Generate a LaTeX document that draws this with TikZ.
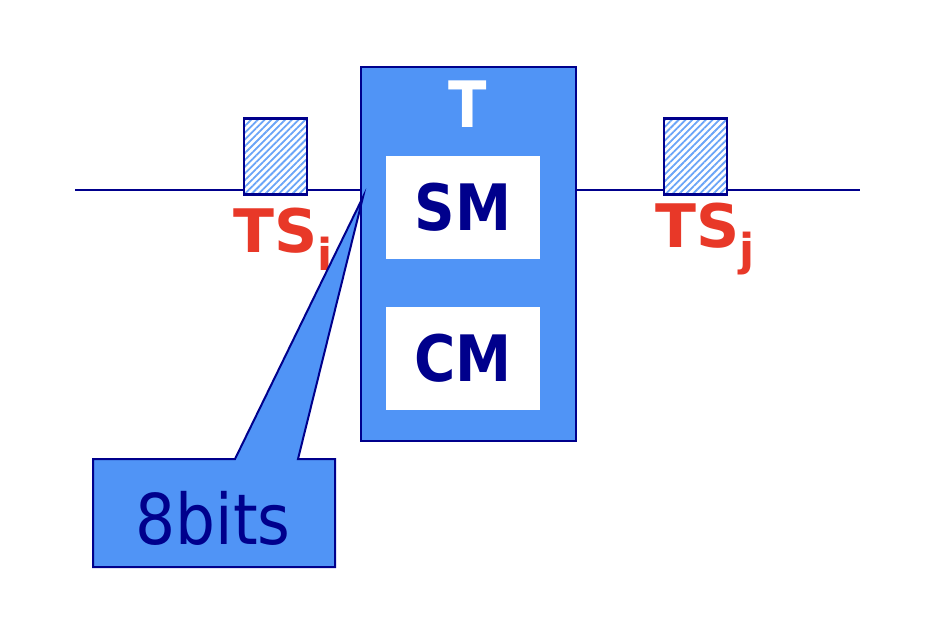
\documentclass[tikz,border=0pt]{standalone}
\usepackage{fontspec}
\setmainfont{DejaVu Sans}
\usetikzlibrary{patterns.meta}
\definecolor{tblue}{RGB}{80,148,246}
\definecolor{tnavy}{RGB}{0,0,140}
\definecolor{tsred}{RGB}{232,56,40}
\newcommand{\narrow}[2][0.88]{\scalebox{#1}[1]{#2}}
\tikzset{
  tsbox/.style={draw=tnavy, line width=1.2pt, preaction={fill=white},
    pattern={Lines[angle=45, distance=2.4pt, line width=0.9pt]}, pattern color=tblue!85,
    minimum width=31.5pt, minimum height=38pt, inner sep=0pt},
  memo/.style={fill=white, minimum width=77pt, minimum height=51.5pt, inner sep=0pt,
    font=\fontsize{32}{32}\selectfont\bfseries, text=tnavy},
  tslabel/.style={font=\fontsize{30}{30}\selectfont\bfseries, text=tsred, inner sep=0pt}
}
\begin{document}
\begin{tikzpicture}[x=0.5pt, y=-0.5pt]
  \useasboundingbox (0,0) rectangle (938,622);

  % ligne de transmission
  \coordinate (lstart) at (75,190);
  \coordinate (lend) at (860,190);
  \node[draw=tnavy, fill=tblue, line width=1pt, minimum width=107.5pt, minimum height=187pt, inner sep=0pt] (T) at (468.5,254) {};
  \draw[tnavy, line width=1pt] (lstart) -- (lstart -| T.west);
  \draw[tnavy, line width=1pt] (T.east |- lend) -- (lend);

  % intervalles de temps
  \node[tsbox] (tsi) at (275.5,156.5) {};
  \node[tsbox] (tsj) at (695.5,156.5) {};
  \node[tslabel] (tsilab) at (283,239) {TS\raisebox{-0.55ex}{\fontsize{22}{22}\selectfont i}};
  \node[tslabel] (tsjlab) at (705,239) {TS\raisebox{-0.55ex}{\fontsize{22}{22}\selectfont j}};

  % commutateur T
  \node[text=white, font=\fontsize{32}{32}\selectfont\bfseries, inner sep=0pt] (tlab) at (468,104) {\narrow{T}};
  \node[memo] (sm) at (463,207) {\narrow{SM}};
  \node[memo] (cm) at (463,358) {\narrow{CM}};

  % bulle 8bits
  \coordinate (tip) at (363,197);
  \draw[tnavy, fill=tblue, line width=1pt] (93,459) -- (235,459) -- (tip) -- (298,459) -- (335,459)
    -- (335,567) -- (93,567) -- cycle;
  \node[text=tnavy, font=\fontsize{35}{35}\selectfont, inner sep=0pt] (bits) at (213,518) {\narrow[0.9]{8bits}};
\end{tikzpicture}
\end{document}
